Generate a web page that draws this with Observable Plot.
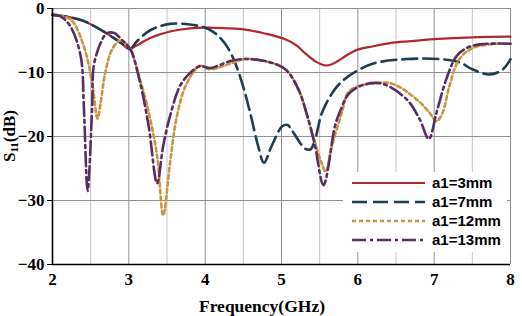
<!DOCTYPE html>
<html>
<head>
<meta charset="utf-8">
<script src="https://cdn.jsdelivr.net/npm/d3@7"></script>
<script src="https://cdn.jsdelivr.net/npm/@observablehq/plot@0.6"></script>
<style>
  html, body { margin: 0; padding: 0; background: #fff; }
  #chart { width: 522px; height: 316px; }
  #chart svg text { font-family: 'Liberation Serif', 'Times New Roman', serif; font-weight: bold; }
</style>
</head>
<body>
<div id="chart"></div>
<script>
// ---- data ----
const seriesNames = ["a1=3mm", "a1=7mm", "a1=12mm", "a1=13mm"];
const seriesColors = ["#b0282d", "#1d3e50", "#c99540", "#5c2b62"];
const seriesDash = [null, "15,6", "4,3", "14,4,3,4"];

const freq3 = [2.0, 2.2, 2.4, 2.6, 2.8, 2.9, 3.0, 3.1, 3.28, 3.54, 3.8, 4.0, 4.3, 4.52, 4.78, 5.05, 5.2, 5.31, 5.45, 5.57, 5.66, 5.74, 5.83, 5.98, 6.2, 6.42, 6.7, 7.0, 7.5, 8.0];
const s11_3  = [-1.0, -1.3, -1.9, -3.1, -4.6, -5.4, -6.3, -5.8, -4.6, -3.6, -3.1, -3.0, -3.1, -3.3, -3.9, -4.8, -5.8, -7.0, -8.3, -8.9, -8.7, -8.2, -7.5, -6.5, -5.9, -5.4, -5.1, -4.8, -4.5, -4.4];

const freq7 = [2.0, 2.2, 2.4, 2.6, 2.8, 2.9, 3.02, 3.1, 3.28, 3.54, 3.8, 4.0, 4.1, 4.2, 4.3, 4.4, 4.5, 4.6, 4.69, 4.77, 4.87, 5.01, 5.08, 5.14, 5.31, 5.38, 5.44, 5.53, 5.7, 5.83, 5.94, 6.2, 6.64, 7.07, 7.33, 7.5, 7.73, 7.9, 8.0];
const s11_7  = [-1.0, -1.3, -1.9, -3.1, -4.6, -5.4, -6.3, -5.2, -3.4, -2.4, -2.5, -3.0, -3.6, -4.6, -6.2, -8.7, -12.3, -16.8, -21.3, -24.1, -21.5, -18.4, -18.2, -19.1, -21.9, -22.0, -20.5, -16.3, -12.6, -11.0, -10.1, -8.6, -7.9, -7.9, -8.4, -9.5, -10.3, -9.5, -7.9];

const freq12 = [2.0, 2.235, 2.41, 2.52, 2.59, 2.63, 2.69, 2.78, 2.89, 3.04, 3.06, 3.24, 3.37, 3.45, 3.54, 3.63, 3.76, 3.93, 4.07, 4.33, 4.52, 4.78, 5.05, 5.22, 5.35, 5.44, 5.52, 5.58, 5.66, 5.79, 5.89, 6.2, 6.46, 6.77, 6.94, 7.03, 7.11, 7.2, 7.33, 7.5, 7.73, 8.0];
const s11_12  = [-1.0, -1.7, -5.9, -11.7, -17.2, -14.8, -10.1, -6.4, -5.0, -6.6, -7.5, -15.2, -23.0, -32.3, -24.1, -16.8, -11.7, -9.0, -9.5, -8.6, -7.9, -8.2, -9.5, -12.6, -17.3, -21.0, -24.0, -25.5, -21.5, -16.3, -12.9, -11.7, -11.8, -14.2, -16.3, -17.6, -16.3, -12.1, -7.9, -6.2, -5.6, -5.5];

const freq13 = [2.0, 2.1, 2.235, 2.37, 2.41, 2.46, 2.52, 2.54, 2.63, 2.71, 2.8, 2.9, 3.02, 3.15, 3.26, 3.37, 3.45, 3.54, 3.67, 3.8, 3.93, 4.07, 4.33, 4.52, 4.78, 5.05, 5.22, 5.35, 5.44, 5.55, 5.7, 5.76, 5.89, 6.11, 6.33, 6.64, 6.81, 6.93, 7.03, 7.16, 7.29, 7.42, 7.6, 8.0];
const s11_13  = [-1.0, -1.2, -2.8, -7.5, -15.2, -28.5, -15.2, -9.0, -5.4, -3.9, -3.8, -4.8, -6.4, -11.7, -18.4, -27.3, -21.5, -16.8, -12.1, -10.1, -9.0, -9.3, -8.2, -7.9, -8.2, -9.5, -12.6, -17.3, -21.5, -27.6, -18.4, -16.3, -13.2, -11.8, -11.8, -14.2, -17.3, -20.4, -16.3, -11.0, -7.5, -6.2, -5.6, -5.5];

const xTicks = [2, 3, 4, 5, 6, 7, 8];
const xMinorTicks = [2.5, 3.5, 4.5, 5.5, 6.5, 7.5];
const yTicks = [-40, -30, -20, -10, 0];
const xMajorGrid = [3, 4, 5, 6, 7, 8];
const yMajorGrid = [-30, -20, -10, 0];
const xLabel = "Frequency(GHz)";

// ---- build tables ----
const allFreq = [freq3, freq7, freq12, freq13];
const allS11 = [s11_3, s11_7, s11_12, s11_13];
const tables = allFreq.map((fs, i) => fs.map((f, j) => ({f, s: allS11[i][j], name: seriesNames[i]})));

const lineMarks = tables.map((t, i) => Plot.line(t, {
  x: "f", y: "s", stroke: seriesColors[i], strokeWidth: i === 0 ? 2.2 : 2.6,
  strokeDasharray: seriesDash[i] || undefined, curve: "catmull-rom"
}));

const plot = Plot.plot({
  width: 522,
  height: 316,
  marginLeft: 52,
  marginRight: 12,
  marginTop: 8,
  marginBottom: 52,
  style: {fontSize: "17px"},
  x: {domain: [2, 8]},
  y: {domain: [-40, 0]},
  marks: [
    Plot.ruleX(xMinorTicks, {stroke: "#c4c4c4", strokeWidth: 1}),
    Plot.ruleX(xMajorGrid, {stroke: "#8f8f8f", strokeWidth: 1}),
    Plot.ruleY(yMajorGrid, {stroke: "#8f8f8f", strokeWidth: 1}),
    Plot.axisX({ticks: xTicks, tickSize: 0, tickPadding: 8, label: null, tickFormat: d => String(d)}),
    Plot.axisY({ticks: yTicks, tickSize: 5, tickPadding: 3, label: null}),
    ...lineMarks,
    Plot.ruleX([2], {stroke: "#000", strokeWidth: 1.6}),
    Plot.ruleY([-40], {stroke: "#000", strokeWidth: 1.6})
  ]
});

document.getElementById("chart").appendChild(plot);

const svg = d3.select(plot);

// ---- x-axis label ----
svg.append("text")
  .attr("x", 262).attr("y", 312)
  .attr("text-anchor", "middle")
  .attr("font-size", 17.5)
  .attr("fill", "#000")
  .text(xLabel);

// ---- y-axis label with subscript ----
const yl = svg.append("text")
  .attr("transform", "translate(15,136) rotate(-90)")
  .attr("text-anchor", "middle")
  .attr("font-size", 17)
  .attr("fill", "#000");
yl.append("tspan").text("S");
yl.append("tspan").attr("font-size", 11).attr("dy", 3).text("11");
yl.append("tspan").attr("dy", -3).text("(dB)");

// ---- legend ----
const lg = svg.append("g");
lg.append("rect").attr("x", 343).attr("y", 172).attr("width", 164).attr("height", 80).attr("fill", "#fff");
seriesNames.forEach((n, i) => {
  const y = 183 + i * 19;
  lg.append("line").attr("x1", 352).attr("x2", 425).attr("y1", y).attr("y2", y)
    .attr("stroke", seriesColors[i]).attr("stroke-width", i === 0 ? 2.2 : 2.6)
    .attr("stroke-dasharray", seriesDash[i]);
  lg.append("text").attr("x", 432).attr("y", y).attr("dy", "0.36em")
    .attr("text-anchor", "start")
    .style("font-family", "'Liberation Sans', Arial, sans-serif")
    .attr("font-size", 15).attr("fill", "#000")
    .text(n);
});
</script>
</body>
</html>
